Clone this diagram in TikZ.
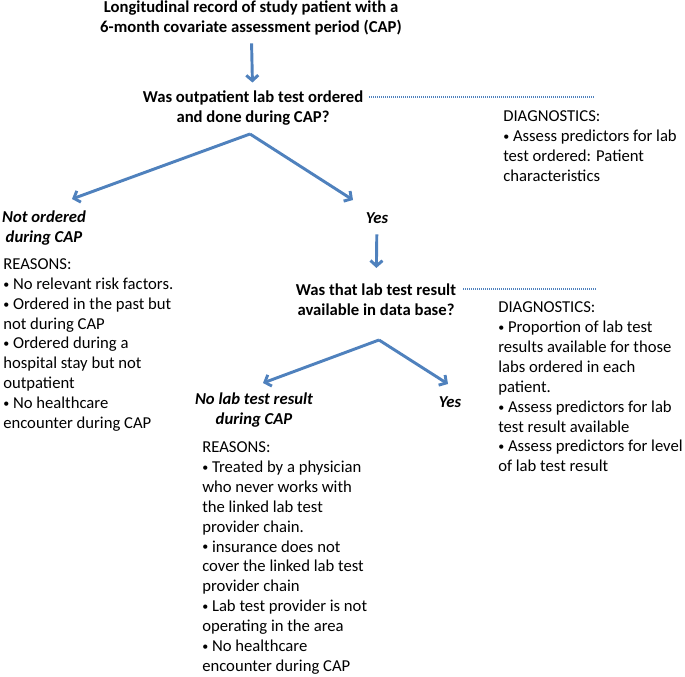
\documentclass[tikz,border=0pt]{standalone}
\usepackage{fontspec}
\setmainfont{Carlito}
\usetikzlibrary{arrows.meta}
\definecolor{flowblue}{HTML}{4F81BD}
\newcommand{\bul}{{\fontsize{9}{9}\selectfont\raisebox{0.2ex}{•}}}

\begin{document}
\begin{tikzpicture}[x=0.75pt,y=-0.75pt,
	flow/.style={draw=flowblue,line width=2.2pt,-{Straight Barb[length=4pt,width=9pt]}},
	dotline/.style={draw=flowblue,line width=0.9pt,dash pattern=on 0.6pt off 0.9pt},
	question/.style={font=\txt\bfseries,align=center,inner sep=0pt},
	answer/.style={font=\txt\bfseries\itshape,align=center,inner sep=0pt},
	notes/.style={font=\txt,align=left,anchor=west,inner sep=0pt}
]

	\def\txt{\fontsize{12.5}{14.9}\selectfont}

	\useasboundingbox (0,0) rectangle (685,677);

	% top of the chart
	\node[question] (record) at (251,18) {Longitudinal record of study patient with a\\6-month covariate assessment period (CAP)};
	\node[question] (ordered) at (253,108) {Was outpatient lab test ordered\\and done during CAP?};
	\node[notes] (diagA) at (503,146) {DIAGNOSTICS:\\\bul{} Assess predictors for lab\\test ordered: Patient\\characteristics};

	% first split
	\node[answer] (notord) at (44,228) {Not ordered\\during CAP};
	\node[answer] (yesA) at (377,218) {Yes};
	\node[notes] (reasonA) at (3,345) {REASONS:\\\bul{} No relevant risk factors.\\\bul{} Ordered in the past but\\not during CAP\\\bul{} Ordered during a\\hospital stay but not\\outpatient\\\bul{} No healthcare\\encounter during CAP};

	% second question
	\node[question] (avail) at (376,300) {Was that lab test result\\available in data base?};
	\node[notes] (diagB) at (498,387) {DIAGNOSTICS:\\\bul{} Proportion of lab test\\results available for those\\labs ordered in each\\patient.\\\bul{} Assess predictors for lab\\test result available\\\bul{} Assess predictors for level\\of lab test result};

	% second split
	\node[answer] (nolab) at (254,410) {No lab test result\\during CAP};
	\node[answer] (yesB) at (450,402) {Yes};
	\node[notes] (reasonB) at (202,558) {REASONS:\\\bul{} Treated by a physician\\who never works with\\the linked lab test\\provider chain.\\\bul{} insurance does not\\cover the linked lab test\\provider chain\\\bul{} Lab test provider is not\\operating in the area\\\bul{} No healthcare\\encounter during CAP};

	\coordinate (apexA) at (250,134);
	\coordinate (tipNo) at (72,199);
	\coordinate (tipYes) at (353,200);
	\coordinate (apexB) at (379,340);
	\coordinate (tipNoB) at (263,383);
	\coordinate (tipYesB) at (448,384);
	\coordinate (endA) at (594,97);
	\coordinate (endB) at (596,289);

	\draw[flow,shorten <=6pt,shorten >=6pt] (record) -- (ordered);
	\draw[flow,shorten <=8pt,shorten >=12pt] (yesA) -- (avail);
	\foreach \a/\b in {apexA/tipNo,apexA/tipYes,apexB/tipNoB,apexB/tipYesB}
		\draw[flow] (\a) -- (\b);

	\draw[dotline] (ordered.east |- endA) ++(6,0) -- (endA);
	\draw[dotline] (avail.east |- endB) ++(7,0) -- (endB);
\end{tikzpicture}
\end{document}
